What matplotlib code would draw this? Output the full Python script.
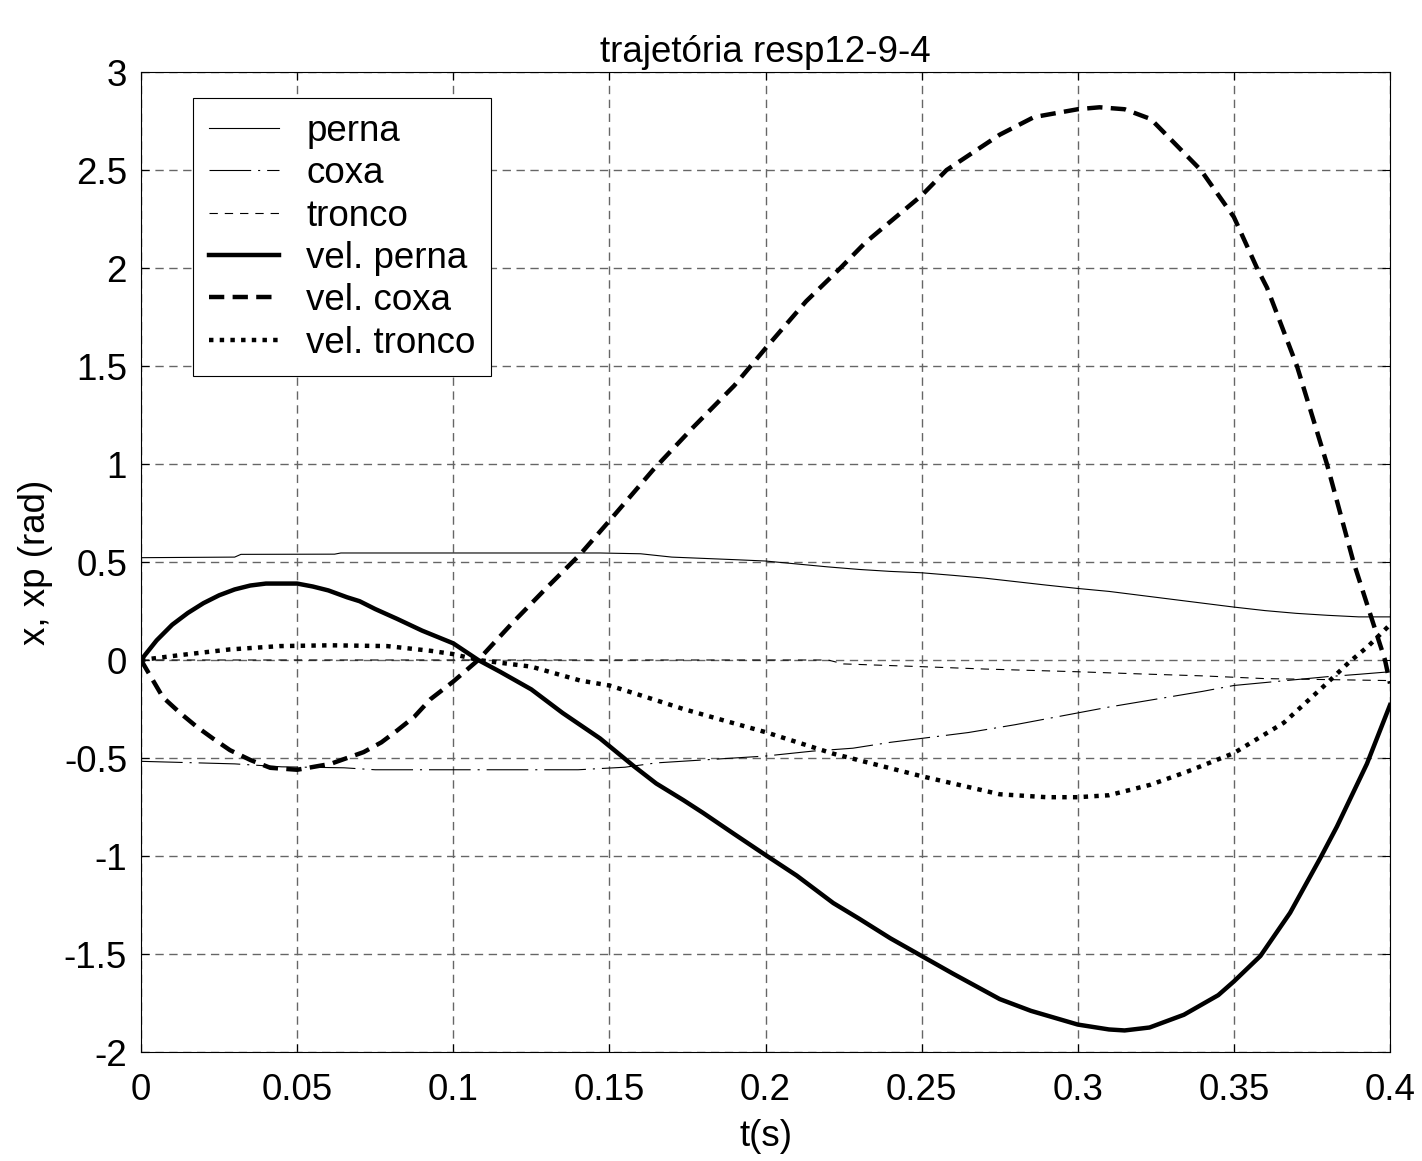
import matplotlib
matplotlib.use("Agg")
import matplotlib.pyplot as plt
import numpy as np

plt.rcParams['font.family'] = ['Liberation Sans', 'DejaVu Sans']
plt.rcParams['lines.scale_dashes'] = False

# values
t_perna = [0, 0.03, 0.032, 0.062, 0.064, 0.147, 0.16, 0.17, 0.19, 0.2, 0.21, 0.22, 0.23, 0.24,
           0.25, 0.26, 0.27, 0.28, 0.29, 0.3, 0.31, 0.32, 0.33, 0.34, 0.35, 0.36, 0.37, 0.38, 0.39, 0.4]
perna = [0.522, 0.525, 0.539, 0.54, 0.546, 0.546, 0.542, 0.525, 0.512, 0.505, 0.49, 0.475, 0.462, 0.452,
         0.445, 0.432, 0.418, 0.40, 0.382, 0.365, 0.35, 0.33, 0.31, 0.29, 0.27, 0.252, 0.238, 0.228, 0.22, 0.22]

t_coxa = [0, 0.03, 0.045, 0.065, 0.075, 0.14, 0.155, 0.165, 0.18, 0.2, 0.215, 0.228, 0.24, 0.25,
          0.265, 0.28, 0.29, 0.3, 0.31, 0.325, 0.34, 0.35, 0.36, 0.38, 0.39, 0.4]
coxa = [-0.517, -0.53, -0.545, -0.55, -0.56, -0.56, -0.547, -0.525, -0.51, -0.49, -0.465, -0.45, -0.42, -0.40,
        -0.37, -0.33, -0.30, -0.27, -0.24, -0.20, -0.16, -0.13, -0.115, -0.085, -0.073, -0.06]

t_tronco = [0, 0.22, 0.225, 0.25, 0.27, 0.3, 0.32, 0.34, 0.36, 0.4]
tronco = [0, 0.0, -0.02, -0.034, -0.046, -0.06, -0.071, -0.081, -0.095, -0.105]

t_vperna = [0, 0.005, 0.01, 0.015, 0.02, 0.025, 0.03, 0.035, 0.04, 0.05, 0.055, 0.06, 0.066, 0.07,
            0.075, 0.082, 0.09, 0.1, 0.108, 0.115, 0.125, 0.135, 0.147, 0.1577, 0.165, 0.1737, 0.18,
            0.1897, 0.2, 0.21, 0.2217, 0.23, 0.24, 0.25, 0.26, 0.275, 0.285, 0.3, 0.31, 0.315, 0.323,
            0.334, 0.345, 0.35, 0.3585, 0.368, 0.3777, 0.383, 0.3872, 0.3926, 0.4]
vperna = [0, 0.10, 0.18, 0.24, 0.29, 0.33, 0.36, 0.38, 0.39, 0.39, 0.375, 0.355, 0.32, 0.30,
          0.26, 0.21, 0.15, 0.085, 0.0, -0.06, -0.15, -0.27, -0.40, -0.54, -0.63, -0.715, -0.78,
          -0.885, -0.995, -1.10, -1.24, -1.32, -1.42, -1.51, -1.60, -1.73, -1.79, -1.86, -1.885, -1.89, -1.875,
          -1.81, -1.71, -1.64, -1.51, -1.29, -1.01, -0.85, -0.71, -0.53, -0.23]

t_vcoxa = [0, 0.007, 0.0125, 0.0178, 0.023, 0.0285, 0.035, 0.0414, 0.05, 0.0607, 0.066, 0.0713,
           0.077, 0.082, 0.0875, 0.0927, 0.1, 0.108, 0.119, 0.13, 0.1407, 0.15, 0.164, 0.177, 0.19,
           0.2, 0.213, 0.224, 0.232, 0.25, 0.258, 0.275, 0.286, 0.3, 0.307, 0.315, 0.3234, 0.3394,
           0.35, 0.3574, 0.3606, 0.3702, 0.3798, 0.3883, 0.3984, 0.4]
vcoxa = [0, -0.19, -0.27, -0.34, -0.40, -0.46, -0.51, -0.55, -0.56, -0.53, -0.50, -0.47,
         -0.42, -0.36, -0.29, -0.20, -0.11, 0.0, 0.19, 0.37, 0.54, 0.71, 0.97, 1.19, 1.40,
         1.59, 1.83, 2.0, 2.13, 2.37, 2.5, 2.68, 2.77, 2.81, 2.82, 2.81, 2.76, 2.5,
         2.26, 2.0, 1.90, 1.5, 1.0, 0.5, 0.0, -0.12]

t_vtronco = [0, 0.0125, 0.0285, 0.0445, 0.0607, 0.0788, 0.0927, 0.1, 0.108, 0.125, 0.1407, 0.15,
             0.16, 0.1737, 0.187, 0.2, 0.2217, 0.25, 0.275, 0.29, 0.3, 0.31, 0.3234, 0.335, 0.35,
             0.366, 0.3787, 0.387, 0.393, 0.4]
vtronco = [0, 0.025, 0.054, 0.071, 0.075, 0.071, 0.047, 0.03, 0.0, -0.034, -0.105, -0.13,
           -0.18, -0.25, -0.31, -0.368, -0.478, -0.593, -0.685, -0.70, -0.70, -0.69, -0.636, -0.57, -0.475,
           -0.32, -0.135, -0.01, 0.07, 0.18]

xticks = [0, 0.05, 0.1, 0.15, 0.2, 0.25, 0.3, 0.35, 0.4]
xticklabels = ['0', '0.05', '0.1', '0.15', '0.2', '0.25', '0.3', '0.35', '0.4']
yticks = [-2, -1.5, -1, -0.5, 0, 0.5, 1, 1.5, 2, 2.5, 3]
yticklabels = ['-2', '-1.5', '-1', '-0.5', '0', '0.5', '1', '1.5', '2', '2.5', '3']

FS = 26.5

fig = plt.figure(figsize=(14.22, 11.61), dpi=100)
ax = fig.add_axes([141 / 1422, 1 - 1052 / 1161, (1390 - 141) / 1422, (1052 - 72) / 1161])

ax.plot(t_perna, perna, color='k', lw=0.8, label='perna')
ax.plot(t_coxa, coxa, color='k', lw=0.8, dashes=(30, 5, 1.5, 5), label='coxa')
ax.plot(t_tronco, tronco, color='k', lw=0.8, dashes=(6, 5), label='tronco')
ax.plot(t_vperna, vperna, color='k', lw=3.2, label='vel. perna')
ax.plot(t_vcoxa, vcoxa, color='k', lw=3.2, dashes=(11, 6), dash_capstyle='butt', label='vel. coxa')
ax.plot(t_vtronco, vtronco, color='k', lw=3.2, dashes=(3.2, 4.5), dash_capstyle='butt', label='vel. tronco')

ax.set_xlim(0, 0.4)
ax.set_ylim(-2, 3)
ax.set_xticks(xticks)
ax.set_xticklabels(xticklabels)
ax.set_yticks(yticks)
ax.set_yticklabels(yticklabels)
ax.tick_params(direction='in', length=6, width=0.8, labelsize=FS, top=True, right=True)
ax.tick_params(axis='x', pad=15)
ax.tick_params(axis='y', pad=10)
ax.grid(True, color='0.4', lw=1.0, dashes=(6, 4))
for s in ax.spines.values():
    s.set_linewidth(0.8)

ax.set_title('trajetória resp12-9-4', fontsize=FS, pad=7)
ax.set_xlabel('t(s)', fontsize=FS, labelpad=8)
ax.set_ylabel('x, xp (rad)', fontsize=FS, labelpad=8)

leg = ax.legend(loc='upper left', bbox_to_anchor=(0.042, 0.973), fontsize=FS, frameon=True,
                fancybox=False, edgecolor='k', framealpha=1, handlelength=1.9, labelspacing=0.2,
                handletextpad=0.75, borderpad=0.42, borderaxespad=0)
leg.get_frame().set_linewidth(0.8)

fig.savefig('out.png', dpi=100)
